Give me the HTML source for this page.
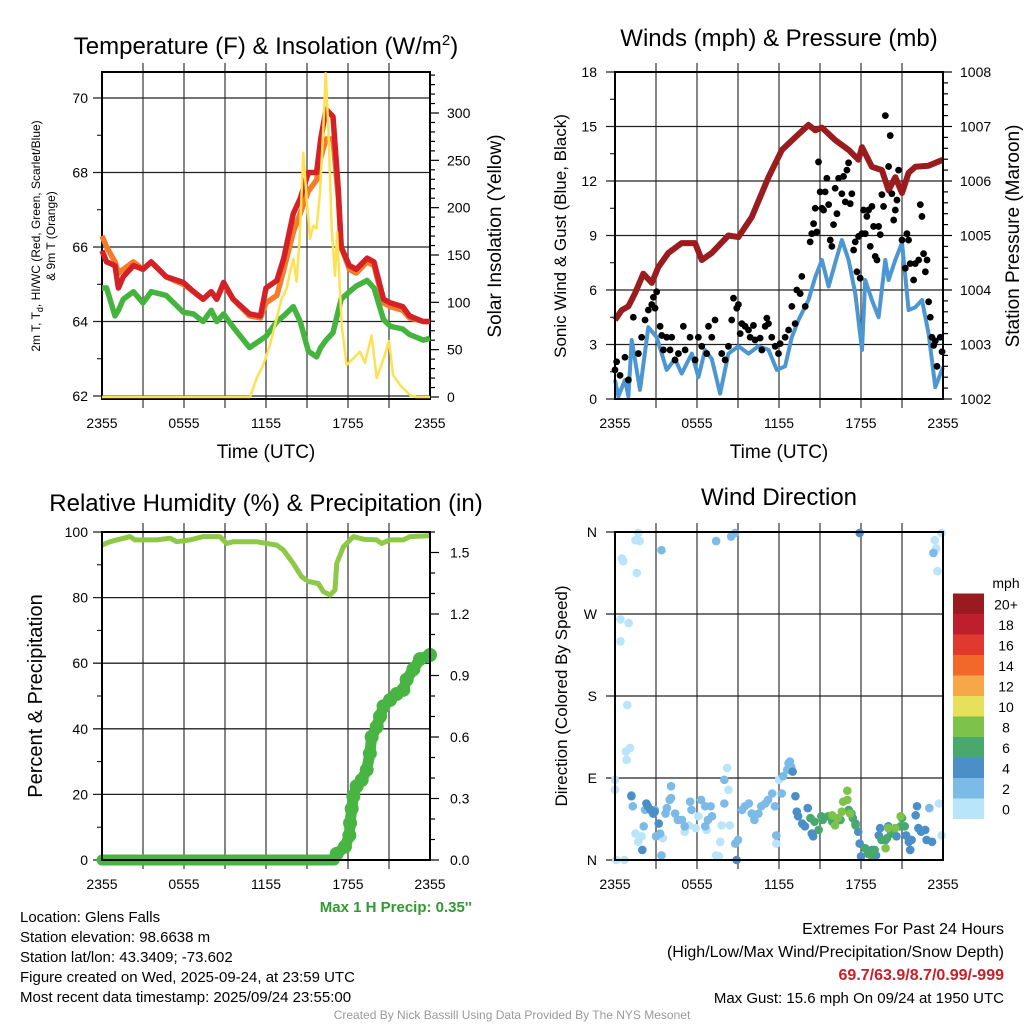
<!DOCTYPE html>
<html><head><meta charset="utf-8">
<style>
html,body{margin:0;padding:0;background:#fff;}
svg{display:block;font-family:"Liberation Sans",Arial,sans-serif;}
</style></head>
<body>
<svg id="fig" width="1024" height="1024" viewBox="0 0 1024 1024" xmlns="http://www.w3.org/2000/svg">
<g id="g1"></g>
<g id="g2"></g>
<g id="g3"></g>
<g id="g4"></g>
<g id="gt">
<text x="266" y="54" font-size="24" text-anchor="middle">Temperature (F) &amp; Insolation (W/m<tspan dy="-9" font-size="15">2</tspan><tspan dy="9">)</tspan></text>
<text x="779" y="46" font-size="24" text-anchor="middle">Winds (mph) &amp; Pressure (mb)</text>
<text x="266" y="511" font-size="24" text-anchor="middle">Relative Humidity (%) &amp; Precipitation (in)</text>
<text x="779" y="505" font-size="24" text-anchor="middle">Wind Direction</text>
<text x="266" y="458" font-size="19" text-anchor="middle">Time (UTC)</text>
<text x="779" y="458" font-size="19" text-anchor="middle">Time (UTC)</text>
<text transform="translate(40,236) rotate(-90)" font-size="12" text-anchor="middle">2m T, T<tspan dy="3" font-size="9">d</tspan><tspan dy="-3">, HI/WC (Red, Green, Scarlet/Blue)</tspan></text>
<text transform="translate(55,236) rotate(-90)" font-size="12" text-anchor="middle">&amp; 9m T (Orange)</text>
<text transform="translate(501,236) rotate(-90)" font-size="19" text-anchor="middle">Solar Insolation (Yellow)</text>
<text transform="translate(566,236) rotate(-90)" font-size="17" text-anchor="middle">Sonic Wind &amp; Gust (Blue, Black)</text>
<text transform="translate(1019,236) rotate(-90)" font-size="19" text-anchor="middle">Station Pressure (Maroon)</text>
<text transform="translate(42,696) rotate(-90)" font-size="20" text-anchor="middle">Percent &amp; Precipitation</text>
<text transform="translate(567,696) rotate(-90)" font-size="17" text-anchor="middle">Direction (Colored By Speed)</text>
<text x="472" y="912" font-size="15" font-weight="bold" fill="#2e9b30" text-anchor="end">Max 1 H Precip: 0.35''</text>
<g font-size="15">
<text x="20" y="922">Location: Glens Falls</text>
<text x="20" y="942">Station elevation: 98.6638 m</text>
<text x="20" y="962">Station lat/lon: 43.3409; -73.602</text>
<text x="20" y="982">Figure created on Wed, 2025-09-24, at 23:59 UTC</text>
<text x="20" y="1002">Most recent data timestamp: 2025/09/24 23:55:00</text>
</g>
<g font-size="16" text-anchor="end">
<text x="1004" y="934">Extremes For Past 24 Hours</text>
<text x="1004" y="957">(High/Low/Max Wind/Precipitation/Snow Depth)</text>
<text x="1004" y="980" font-weight="bold" fill="#c8202a">69.7/63.9/8.7/0.99/-999</text>
<text x="1004" y="1003" font-size="15">Max Gust: 15.6 mph On 09/24 at 1950 UTC</text>
</g>
<text x="512" y="1019" font-size="12" fill="#999" text-anchor="middle">Created By Nick Bassill Using Data Provided By The NYS Mesonet</text>
</g>
</svg>
<script>
// ---------- DATA ----------
const timeTickLabels = ["2355","0555","1155","1755","2355"];
const tempTimes = [0,0.34,0.95,1.2,1.56,2.3,3.0,3.6,4.7,5.95,6.7,7.4,8.0,8.4,8.9,9.6,10.8,11.6,12.0,12.8,13.3,14.0,14.5,15.1,15.7,16.0,16.4,16.9,17.3,17.5,18.1,18.6,19.4,19.9,20.6,21.1,22.0,22.5,23.5,24];
const tempRed = [65.9,65.6,65.5,64.9,65.2,65.5,65.4,65.6,65.2,65.05,64.8,64.6,64.8,64.6,65.05,64.6,64.2,64.15,64.9,65.1,65.7,66.9,67.3,68.0,68.0,68.9,69.7,69.5,67.5,66.0,65.5,65.4,65.7,65.6,64.6,64.5,64.4,64.15,64.0,64.0];
const tempOrange = [66.3,66.0,65.6,65.3,65.4,65.6,65.4,65.6,65.2,65.0,64.8,64.6,64.8,64.6,65.0,64.6,64.15,64.1,64.5,64.7,65.4,66.4,66.9,67.5,67.8,68.4,68.9,68.9,67.3,66.0,65.4,65.3,65.6,65.5,64.5,64.4,64.3,64.1,64.0,64.0];
const tempGreen = [64.9,64.9,64.15,64.3,64.6,64.8,64.5,64.8,64.7,64.25,64.2,64.0,64.3,64.0,64.2,63.85,63.3,63.5,63.6,64.0,64.15,64.4,64.0,63.2,63.05,63.3,63.5,63.7,64.3,64.6,64.8,64.95,65.1,64.9,64.05,63.87,63.8,63.65,63.5,63.55];
const solarTimes = [0,10.83,11.32,11.8,12.29,12.78,13.15,13.5,13.76,14.0,14.24,14.49,14.73,14.98,15.22,15.46,15.7,15.95,16.2,16.37,16.56,16.8,17.05,17.2,17.54,17.9,18.4,18.88,19.24,19.73,20.1,20.6,21.0,21.3,21.8,22.54,23.0,24];
const solarValues = [0,0,20,34,55,83,104,114,132,146,122,174,258,209,167,181,178,216,285,342,285,181,128,174,76,34,41,48,36,65,20,40,59,23,13,2,0,0];
const tempTicks = [62,64,66,68,70];
const solarTicks = [0,50,100,150,200,250,300];

const windTimes = [0,0.25,0.73,0.98,1.22,1.83,2.44,3.05,3.42,3.78,4.39,4.88,5.62,6.1,6.59,7.08,7.69,8.3,9.03,9.77,10.5,11.23,11.84,12.45,12.94,13.43,14.16,14.65,15.14,15.63,16.11,16.6,17.09,17.58,18.07,18.31,18.8,19.29,19.78,20.02,20.51,21.0,21.48,21.97,22.46,22.95,23.44,24];
const windSpeed = [1.05,0.15,1.05,0.15,3.25,0.5,3.95,3.4,2.5,1.6,2.2,1.4,2.5,1.2,2.7,2.2,0.3,2.5,2.9,2.5,2.9,2.7,1.6,1.8,3.4,4.35,5.45,6.7,7.65,6.2,7.5,8.75,7.65,5.8,2.7,6.55,5.45,4.5,7.65,6.55,7.65,8.6,4.9,5.05,5.45,3.6,0.65,1.75];
const pressTimes = [0,0.49,0.98,1.46,2.07,2.69,3.17,3.91,4.88,5.86,6.35,7.08,8.3,9.03,10.01,11.23,12.21,13.18,14.16,14.65,15.14,16.11,17.09,17.82,18.07,18.8,19.53,20.02,20.51,21.0,21.48,21.97,22.95,24];
const pressValues = [1003.45,1003.63,1003.7,1003.94,1004.3,1004.13,1004.42,1004.68,1004.86,1004.86,1004.55,1004.68,1005.0,1004.97,1005.34,1006.07,1006.57,1006.8,1007.03,1006.93,1006.98,1006.75,1006.57,1006.39,1006.62,1006.26,1006.2,1005.83,1006.07,1005.78,1006.15,1006.26,1006.28,1006.39];
const gustTimes = [0,0.12,0.37,0.73,0.98,1.34,1.71,1.95,2.2,2.44,2.69,2.93,3.05,2.81,3.3,3.42,3.78,4.15,3.54,4.03,4.39,4.64,5.0,5.13,5.49,5.86,6.1,6.35,6.84,7.08,7.32,6.71,7.81,8.06,8.3,8.54,8.67,8.91,9.03,9.16,9.28,9.52,9.77,9.89,10.13,10.25,10.62,10.74,10.99,11.11,11.23,11.47,11.72,11.96,12.08,12.45,12.7,12.94,13.18,13.3,13.55,13.67,13.92,14.28,14.4,14.53,14.65,14.77,14.89,15.01,15.14,15.26,15.38,15.63,15.5,15.75,15.87,15.99,16.11,16.24,16.36,16.6,16.72,16.85,16.97,17.09,17.21,17.33,17.46,17.58,17.7,17.82,17.94,18.07,18.19,18.31,18.43,18.55,18.68,18.8,18.92,19.04,19.17,19.29,19.41,19.53,19.65,19.78,20.02,20.14,20.26,20.39,20.51,20.63,20.75,21.0,21.24,21.36,21.48,21.6,21.85,21.97,22.22,22.34,22.46,22.58,22.71,22.83,22.95,23.07,23.19,23.32,23.44,23.56,23.8,23.93];
const gustSpeeds = [1.6,2.05,1.3,2.3,1.05,4.5,2.5,3.4,4.35,4.9,5.2,5.0,5.9,5.6,4.0,3.5,3.4,3.4,2.7,2.7,2.15,2.5,4.0,2.7,3.4,2.15,3.4,2.9,4.0,3.4,4.35,2.5,2.5,2.15,2.9,4.35,5.55,5.0,5.2,3.6,4.15,4.0,3.8,3.4,4.05,3.25,3.35,2.7,4.0,4.45,4.15,3.4,2.9,2.5,3.05,3.4,3.8,5.1,4.15,6.0,5.8,6.75,5.1,8.65,9.1,9.65,10.5,9.2,13.05,11.4,10.5,10.4,11.4,10.7,12.15,8.75,8.4,9.6,11.6,10.2,12.15,11.3,12.25,10.85,12.6,13.0,10.75,11.3,8.2,8.65,7.0,8.95,6.65,9.1,10.4,9.1,10.05,10.4,8.4,10.6,9.5,7.85,7.65,9.5,9.05,11.25,10.6,15.6,12.8,14.5,11.3,9.85,10.4,10.95,12.6,8.75,7.2,9.1,8.75,7.45,6.55,7.45,7.65,10.7,10.05,8.0,7.0,7.65,5.35,4.5,3.4,2.95,3.2,1.8,3.4,2.6];
const windTicks = [0,3,6,9,12,15,18];
const pressTicks = [1002,1003,1004,1005,1006,1007,1008];

const rhTimes = [0,0.59,2.05,2.41,4.0,4.98,5.46,6.44,7.41,8.63,9.12,9.61,11.3,12.78,13.27,14.0,14.6,15.1,15.83,16.2,16.68,17.05,17.17,17.66,18.39,19.12,20.1,20.46,21.07,22.05,22.54,24];
const rhValues = [96.0,97.05,98.6,97.6,97.6,98.1,97.05,97.6,98.6,98.6,96.5,97.05,97.05,96.0,94.5,90.4,86.4,84.9,84.3,81.8,80.8,82.3,90.4,95.5,98.6,97.8,97.6,96.5,97.6,97.6,98.6,98.9];
const precipTimes = [0,17.0,17.17,17.78,18.1,18.15,18.27,18.39,18.63,19.0,19.37,19.6,19.73,20.1,20.34,20.6,21.07,21.56,22.05,22.29,22.78,23.27,24];
const precipValues = [0,0,0.03,0.065,0.12,0.18,0.25,0.31,0.36,0.39,0.44,0.52,0.6,0.65,0.7,0.75,0.78,0.81,0.83,0.88,0.93,0.98,1.0];
const rhTicks = [0,20,40,60,80,100];
const precipTicks = ["0.0","0.3","0.6","0.9","1.2","1.5"];

const dirTimes = [0,0,0.1,0.7,0.4,1.0,0.4,0.5,0.6,1.6,1.5,1.8,1.7,0.9,0.8,1.1,0.85,1.5,1.7,1.95,8.2,8.3,8.4,7.8,7.7,7.4,7.6,6.7,3.5,5.1,5.4,5.9,6.1,11.8,12.0,23.7,23.4,23.5,23.6,23.9,23.9,
1.2,1.3,2.1,2.2,3.4,4.1,4.0,3.8,3.7,4.4,4.6,4.9,5.1,5.5,5.6,6.3,6.6,7.0,7.1,6.8,6.6,7.4,8.5,8.8,8.0,8.0,9.3,9.5,9.8,10.0,10.2,10.5,10.7,11.0,11.2,11.5,11.7,12.2,12.3,12.6,12.7,12.8,12.9,11.8,9.0,8.8,3.4,23.3,23.0,3.3,3.0,4.1,2.9,
2.3,2.4,2.6,2.8,2.9,3.2,13.0,13.2,13.3,13.4,13.7,13.9,14.1,14.4,14.5,17.3,17.6,17.8,17.9,18.0,18.8,19.1,19.3,19.4,19.8,20.0,20.4,20.6,21.3,21.5,21.6,21.7,22.0,22.1,22.2,22.4,22.7,22.8,23.2,17.9,8.9,1.2,2.0,
14.3,14.6,14.9,15.2,15.6,15.9,16.1,16.5,17.1,17.4,17.6,18.3,18.5,18.8,19.0,19.5,19.9,20.2,20.9,21.0,21.2,
15.1,15.9,16.1,16.3,16.6,16.7,17.0,17.0,17.2,19.8,20.0,20.5,20.9];
const dirValues = [88,77,0,0,264,260,240,331,328,315,351,350,359,170,119,123,110,29,20,26,101,77,38,38,20,5,4,33,24,31,38,35,48,18,88,62,351,342,317,359,27,
71,59,37,55,340,81,66,57,51,51,44,44,37,64,55,66,59,59,48,44,37,350,355,359,88,62,55,59,62,51,44,51,59,62,66,73,59,73,92,99,106,108,102,27,22,18,5,337,57,29,26,68,55,
62,59,55,51,53,40,97,70,53,48,40,37,57,29,26,51,40,31,18,4,11,5,27,35,22,37,33,26,27,20,11,22,49,59,35,31,33,22,20,359,0,70,11,
46,42,33,44,48,42,40,44,55,46,38,13,7,4,11,22,24,29,37,46,37,
48,49,38,46,53,64,66,76,51,13,35,35,48];
const dirSpeeds = [1,1,1,1,1,1,1,1,1,1,1,1,1,1,1,1,1,1,1,1,1,1,1,1,1,1,1,1,1,1,1,1,1,1,1,1,1,1,1,1,1,
3,3,3,3,3,3,3,3,3,3,3,3,3,3,3,3,3,3,3,3,3,3,3,3,3,3,3,3,3,3,3,3,3,3,3,3,3,3,3,3,3,3,3,3,3,3,3,3,3,3,3,3,3,
5,5,5,5,5,5,5,5,5,5,5,5,5,5,5,5,5,5,5,5,5,5,5,5,5,5,5,5,5,5,5,5,5,5,5,5,5,5,5,5,5,5,5,
7,7,7,7,7,7,7,7,7,7,7,7,7,7,7,7,7,7,7,7,7,7,
9,9,9,9,9,9,9,9,9,9,9,9,9];
const dirTickLabels = ["N","E","S","W","N"];
const speedBinLabels = ["0","2","4","6","8","10","12","14","16","18","20+"];
const speedBinColors = ["#b9e4f9","#7cbbe7","#4a8fc7","#48a86e","#7dc24a","#e7e05b","#f8a748","#f2682b","#e0392e","#bf1e2d","#991a1f"];

// ---------- HELPERS ----------
const NS = "http://www.w3.org/2000/svg";
function mk(tag, attrs, parent){const e=document.createElementNS(NS,tag);for(const k in attrs)e.setAttribute(k,attrs[k]);parent.appendChild(e);return e;}
function lin(d0,d1,p0,p1){return v=>p0+(v-d0)/(d1-d0)*(p1-p0);}
function pathFrom(xs,ys,fx,fy){return xs.map((t,i)=>(i?"L":"M")+fx(t).toFixed(1)+","+fy(ys[i]).toFixed(1)).join("");}
function frame(g,x0,x1,y0,y1,fx){
  for(let h=3;h<24;h+=3){const gl=mk("line",{x1:fx(h),x2:fx(h),y1:y0-9,y2:y1+9,stroke:"#444","stroke-width":1.3},g);
    
    }
  timeTickLabels.forEach((lb,i)=>{const t=mk("text",{x:fx(i*6),y:y1+29,"font-size":14,"text-anchor":"middle"},g);t.textContent=lb;
    
    });
}
function box(g,x0,x1,y0,y1){const r=mk("rect",{x:x0,y:y0,width:x1-x0,height:y1-y0,fill:"none",stroke:"#000","stroke-width":2},g);
  
  }
function hgrid(g,x0,x1,y,lab,lx,anchor){mk("line",{x1:x0-9,x2:x1,y1:y,y2:y,stroke:"#222","stroke-width":1.3},g);
  if(lab!==null){const t=mk("text",{x:lx,y:y+5,"font-size":14,"text-anchor":anchor},g);t.textContent=lab;
    
    }}
function rtick(g,x,y,len,lab,lx){mk("line",{x1:x,x2:x+len,y1:y,y2:y,stroke:"#000","stroke-width":1.2},g);
  if(lab!==null){const t=mk("text",{x:lx,y:y+5,"font-size":14,"text-anchor":"start"},g);t.textContent=lab;
    
    }}

// ---------- PANEL 1 ----------
(function(){
  const g=document.getElementById("g1");
  const x0=102,x1=430,y0=72,y1=399;
  const fx=lin(0,24,x0,x1), fT=lin(62,70,396,98), fS=lin(0,300,397,113);
  frame(g,x0,x1,y0,y1,fx);
  tempTicks.forEach(v=>hgrid(g,x0,x1,fT(v),String(v),88,"end"));
  [63,65,67,69].forEach(v=>mk("line",{x1:x0-5,x2:x0,y1:fT(v),y2:fT(v),stroke:"#000"},g));
  for(let s=0;s<=340;s+=10){const maj=s%50===0;rtick(g,x1,fS(s),maj?9:5,maj&&solarTicks.includes(s)?String(s):null,447);}
  box(g,x0,x1,y0,y1);
  const cl=mk("g",{},g);
  let p=mk("path",{d:pathFrom(tempTimes,tempOrange,fx,fT),fill:"none",stroke:"#f37b2a","stroke-width":5.5,"stroke-linejoin":"round"},cl);
  
  
  p=mk("path",{d:pathFrom(tempTimes,tempRed,fx,fT),fill:"none",stroke:"#d42127","stroke-width":5.5,"stroke-linejoin":"round"},cl);
  
  
  p=mk("path",{d:pathFrom(tempTimes,tempGreen,fx,fT),fill:"none",stroke:"#45b43f","stroke-width":5.5,"stroke-linejoin":"round"},cl);
  
  
  p=mk("path",{d:pathFrom(solarTimes,solarValues,fx,fS),fill:"none",stroke:"#fde153","stroke-width":2.5,"stroke-linejoin":"round"},cl);
  
  
})();

// ---------- PANEL 2 ----------
(function(){
  const g=document.getElementById("g2");
  const x0=615,x1=943,y0=72,y1=399;
  const fx=lin(0,24,x0,x1), fW=lin(0,18,399,72), fP=lin(1002,1008,399,72);
  frame(g,x0,x1,y0,y1,fx);
  windTicks.forEach(v=>hgrid(g,x0,x1,fW(v),String(v),597,"end"));
  for(let v=1.5;v<18;v+=3)mk("line",{x1:x0-5,x2:x0,y1:fW(v),y2:fW(v),stroke:"#000"},g);
  for(let p=1002;p<=1008.001;p+=0.2){const maj=Math.abs(p-Math.round(p))<0.01;rtick(g,x1,fP(p),maj?9:5,maj?String(Math.round(p)):null,960);}
  let p=mk("path",{d:pathFrom(pressTimes,pressValues,fx,fP),fill:"none",stroke:"#9b1c1f","stroke-width":6,"stroke-linejoin":"round"},g);
  
  
  p=mk("path",{d:pathFrom(windTimes,windSpeed,fx,fW),fill:"none",stroke:"#4c96d2","stroke-width":4,"stroke-linejoin":"round"},g);
  
  
  gustTimes.forEach((t,i)=>{const c=mk("circle",{cx:fx(t),cy:fW(gustSpeeds[i]),r:3.4,fill:"#000"},g);
    
    });
  box(g,x0,x1,y0,y1);
})();

// ---------- PANEL 3 ----------
(function(){
  const g=document.getElementById("g3");
  const x0=102,x1=430,y0=532,y1=860;
  const fx=lin(0,24,x0,x1), fR=lin(0,100,860,532), fPr=lin(0,1.6,860,532);
  frame(g,x0,x1,y0,y1,fx);
  rhTicks.forEach(v=>hgrid(g,x0,x1,fR(v),String(v),88,"end"));
  for(let v=10;v<100;v+=20)mk("line",{x1:x0-5,x2:x0,y1:fR(v),y2:fR(v),stroke:"#000"},g);
  for(let k=0;k<=16;k++){const v=k*0.1;const maj=k%3===0;rtick(g,x1,fPr(v),maj?9:5,maj?precipTicks[k/3]:null,450);}
  let p=mk("path",{d:pathFrom(rhTimes,rhValues,fx,fR),fill:"none",stroke:"#8dc946","stroke-width":5,"stroke-linejoin":"round"},g);
  
  
  p=mk("path",{d:pathFrom(precipTimes,precipValues,fx,fPr),fill:"none",stroke:"#48b543","stroke-width":11,"stroke-linejoin":"round","stroke-linecap":"round"},g);
  
  
  precipTimes.forEach((t,i)=>{if(precipValues[i]>0){const c=mk("circle",{cx:fx(t),cy:fPr(precipValues[i]),r:7,fill:"#48b543"},g);
    
    }});
  box(g,x0,x1,y0,y1);
})();

// ---------- PANEL 4 ----------
(function(){
  const g=document.getElementById("g4");
  const x0=615,x1=943,y0=532,y1=860;
  const fx=lin(0,24,x0,x1), fD=lin(0,360,860,532);
  frame(g,x0,x1,y0,y1,fx);
  dirTickLabels.forEach((lb,i)=>hgrid(g,x0,x1,fD(i*90),lb,597,"end"));
  dirTimes.forEach((t,i)=>{const c=mk("circle",{cx:fx(t),cy:fD(dirValues[i]),r:4.3,fill:speedBinColors[Math.min(10,Math.floor(dirSpeeds[i]/2))]},g);
    
    });
  box(g,x0,x1,y0,y1);
  const lg=mk("g",{},g);
  
  
  const t=mk("text",{x:1006,y:588,"font-size":14,"text-anchor":"middle"},lg);t.textContent="mph";
  speedBinColors.forEach((col,i)=>{const yy=798.5-i*20.5;
    const r=mk("rect",{x:953,y:yy,width:31,height:20.5,fill:col},lg);
    
    
    const tx=mk("text",{x:1006,y:yy+16,"font-size":14,"text-anchor":"middle"},lg);tx.textContent=speedBinLabels[i];
    
    });
})();
</script>
</body></html>
